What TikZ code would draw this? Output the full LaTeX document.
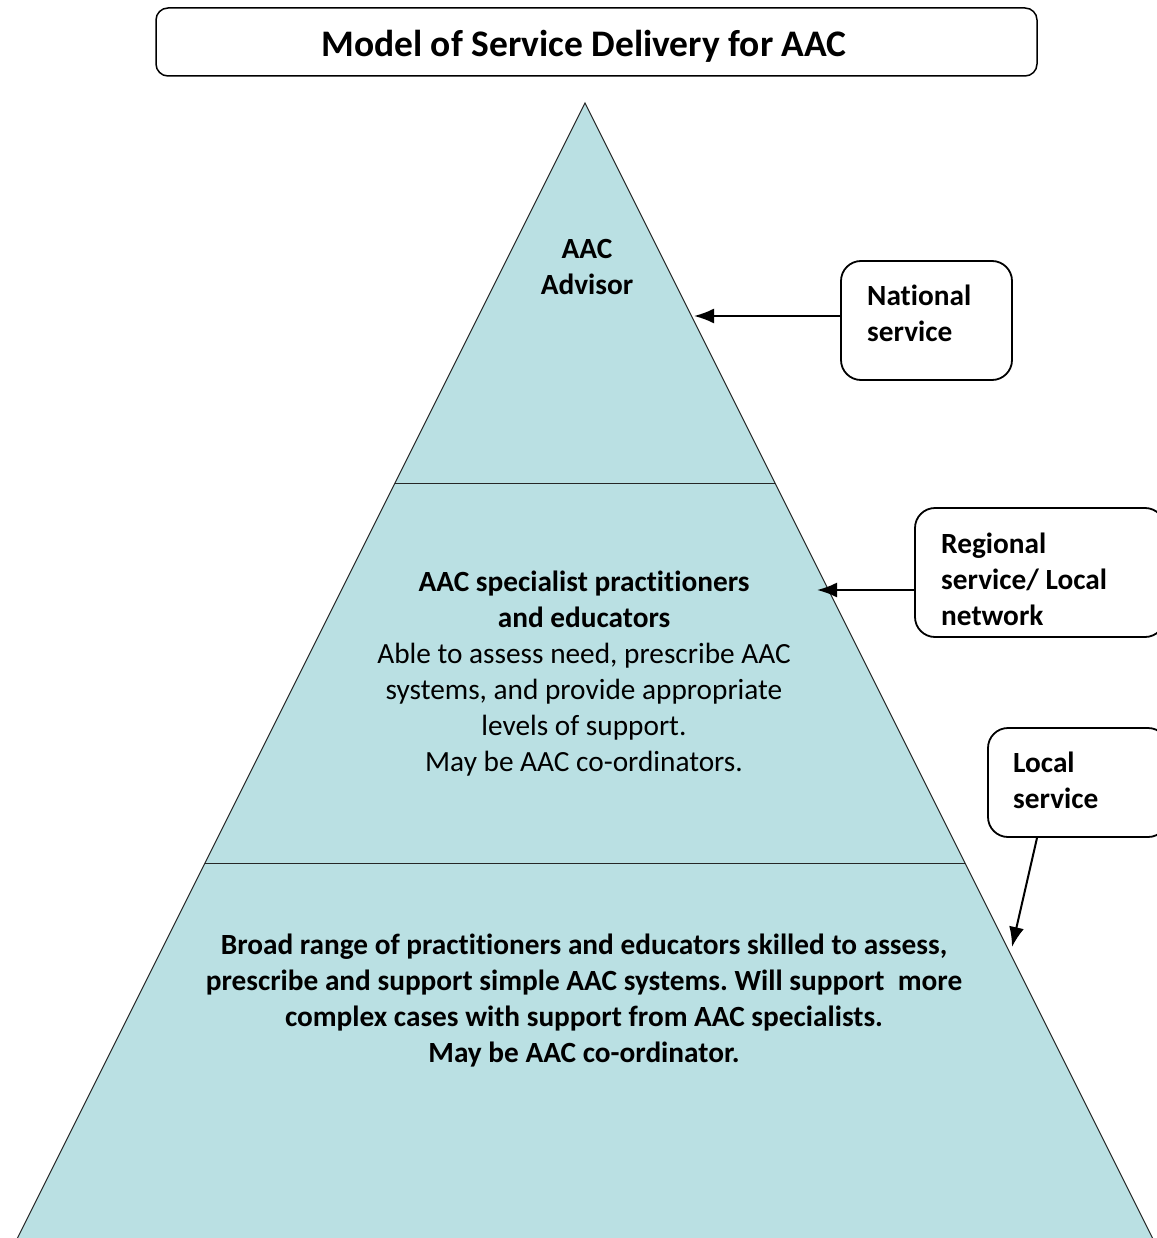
\documentclass[tikz,border=0pt]{standalone}
\usepackage{fontspec}
\setmainfont{Carlito}[RawFeature={-liga;-clig;-dlig}]
\usetikzlibrary{arrows.meta,positioning}
\definecolor{pyrfill}{RGB}{186,224,227}
\frenchspacing

\begin{document}
\begin{tikzpicture}[x=1pt,y=-1pt,
		lab/.style={font=\fontsize{29.3}{36}\selectfont,align=center},
		labb/.style={font=\fontsize{29.3}{36}\selectfont\bfseries,align=center},
		arr/.style={-{Latex[length=20pt,width=15pt]},line width=2pt},
		edge/.style={draw=black!85,line width=1pt},
		sbox/.style={draw,line width=1.8pt,rounded corners=20pt},
		stext/.style={font=\fontsize{29.3}{36}\selectfont\bfseries,align=left,inner sep=0pt},
		tbox/.style={draw,line width=1.5pt,rounded corners=12pt,minimum width=881pt,minimum height=68pt}
		]
		\useasboundingbox (0,0) rectangle (1156,1238);
		
		% --- Title
		\node[tbox] (tb) at (596.5,42) {};
		\node[font=\fontsize{37.5}{44}\selectfont\bfseries] (title) at (584,46) {Model of Service Delivery for AAC};
		
		% --- Pyramid
		\coordinate (apex) at (585,103);
		\coordinate (bl) at (13.5,1246);
		\coordinate (br) at (1156.5,1246);
		\fill[pyrfill] (apex) -- (br) -- (bl) -- cycle;
		\draw[edge] (bl) -- (apex) -- (br);
		\draw[edge] (395,483) -- (775,483);
		\draw[edge] (205,863) -- (965,863);
		
		% --- Level texts
		\node[labb] (top) at (587,267) {AAC\\Advisor};
		\node[lab] (mid) at (584,674) {\textbf{AAC specialist practitioners}\\\textbf{and educators}\\Able to assess need, prescribe AAC\\systems, and provide appropriate\\levels of support.\\May be AAC co-ordinators.};
		\node[labb] (low) at (584,1001) {Broad range of practitioners and educators skilled to assess,\\prescribe and support simple AAC systems. Will support\ \ more\\complex cases with support from AAC specialists.\\May be AAC co-ordinator.};
		
		% --- Service boxes
		\node[sbox,minimum width=171pt,minimum height=119pt] (nat) at (926.5,320.5) {};
		\node[stext,anchor=west] (natText) at (867,313) {National\\service};
		\node[sbox,minimum width=250pt,minimum height=129pt] (reg) at (1040,572.5) {};
		\node[stext,anchor=west] (regText) at (941,579) {Regional\\service/ Local\\network};
		\node[sbox,minimum width=180pt,minimum height=109pt] (loc) at (1078,782.5) {};
		\node[stext,anchor=west] (locText) at (1013,780) {Local\\service};
		
		% --- Arrows to the pyramid
		\coordinate (natTip) at (694,316);
		\coordinate (regTip) at (817,590);
		\coordinate (locTip) at (1012,947);
		\draw[arr] (nat.west |- natTip) -- (natTip);
		\draw[arr] (reg.west |- regTip) -- (regTip);
		\draw[arr] (loc.south -| 1037,0) -- (locTip);
		
	\end{tikzpicture}
\end{document}
